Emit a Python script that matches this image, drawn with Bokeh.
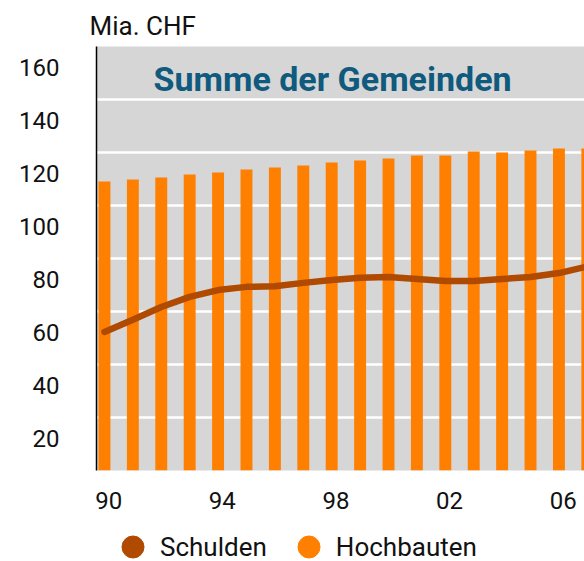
from bokeh.plotting import figure
from bokeh.layouts import column
from bokeh.models import ColumnDataSource, FixedTicker, Label, Legend, LegendItem
from bokeh.embed import file_html
from bokeh.resources import INLINE

# ---- data -------------------------------------------------------------
years = list(range(1990, 2008))
hochbauten = [119.1, 119.8, 120.6, 121.7, 122.5, 123.6, 124.3, 125.1, 126.2,
              127.0, 127.7, 128.9, 128.9, 130.4, 130.0, 130.8, 131.5, 131.5]
schulden = [62.3, 66.9, 71.7, 75.5, 78.1, 79.3, 79.5, 80.8, 81.9,
            82.7, 83.0, 82.3, 81.5, 81.5, 82.3, 83.0, 84.5, 87.0]

y_tick_values = [20, 40, 60, 80, 100, 120, 140, 160]
y_grid_values = [30, 50, 70, 90, 110, 130, 150]
x_tick_years = [1990, 1994, 1998, 2002, 2006]
x_tick_labels = ["90", "94", "98", "02", "06"]

title_text = "Summe der Gemeinden"
unit_text = "Mia. CHF"
series_names = ["Schulden", "Hochbauten"]

# ---- style -------------------------------------------------------------
FONT = "Roboto"
ORANGE = "#ff7f00"
BROWN = "#b04a00"
GRAY = "#d6d6d6"
TITLE_BLUE = "#0f5a7d"
TEXT = "#111111"
Y_LABEL_SHIFT = 1.9
X_LABEL_SHIFT = 0.15

src = ColumnDataSource(dict(year=years, hoch=hochbauten, schuld=schulden))

p = figure(width=584, height=521, output_backend="svg", toolbar_location=None,
           x_range=(1989.72, 2006.9), y_range=(10, 170),
           min_border_left=96, min_border_right=0, min_border_top=46,
           min_border_bottom=51)

p.background_fill_color = GRAY
p.border_fill_color = "white"
p.outline_line_color = None

# grid
p.xgrid.visible = False
p.ygrid.ticker = FixedTicker(ticks=y_grid_values)
p.ygrid.grid_line_color = "white"
p.ygrid.grid_line_width = 2.5

# bars and line
p.vbar(x="year", top="hoch", bottom=0, width=0.42, source=src,
       fill_color=ORANGE, line_color=None)
p.line(x="year", y="schuld", source=src, line_color=BROWN, line_width=6.5,
       line_join="round", line_cap="round")

# axes
yticks = [v + Y_LABEL_SHIFT for v in y_tick_values]
p.yaxis.ticker = FixedTicker(ticks=yticks)
p.yaxis.major_label_overrides = {t: str(v) for t, v in zip(yticks, y_tick_values)}
xticks = [v + X_LABEL_SHIFT for v in x_tick_years]
p.xaxis.ticker = FixedTicker(ticks=xticks)
p.xaxis.major_label_overrides = {t: s for t, s in zip(xticks, x_tick_labels)}

for ax in (p.xaxis[0], p.yaxis[0]):
    ax.major_tick_line_color = None
    ax.minor_tick_line_color = None
    ax.major_label_text_font = FONT
    ax.major_label_text_font_size = "24px"
    ax.major_label_text_color = TEXT
p.xaxis.axis_line_color = None
p.xaxis.major_label_standoff = 15
p.yaxis.axis_line_color = "black"
p.yaxis.axis_line_width = 1.5
p.yaxis.major_label_standoff = 31

# unit label above the axis
p.title.text = unit_text
p.title.align = "left"
p.title.offset = -7
p.title.standoff = 11
p.title.text_font = FONT
p.title.text_font_size = "26px"
p.title.text_font_style = "normal"
p.title.text_color = TEXT

# chart heading inside the plot
p.add_layout(Label(x=1998.03, y=157.6, text=title_text, text_align="center",
                   text_baseline="alphabetic", text_font=FONT, text_font_size="34px",
                   text_font_style="bold", text_color=TITLE_BLUE))

# legend (separate strip so it is not clipped by the plot frame)
lg = figure(width=584, height=40, output_backend="svg", toolbar_location=None,
            x_range=(0, 1), y_range=(0, 1),
            min_border=0, x_axis_location=None, y_axis_location=None)
lg.outline_line_color = None
lg.grid.visible = False
dummy = ColumnDataSource(dict(x=[float("nan")], y=[float("nan")]))
r_s = lg.scatter(x="x", y="y", source=dummy, marker="circle", color=BROWN)
r_h = lg.scatter(x="x", y="y", source=dummy, marker="circle", color=ORANGE)
legend = Legend(items=[LegendItem(label=series_names[0], renderers=[r_s]),
                       LegendItem(label=series_names[1], renderers=[r_h])],
                orientation="horizontal", location=(9, -13),
                glyph_width=55, glyph_height=55, label_standoff=-8, spacing=14,
                padding=0, margin=0, border_line_color=None,
                background_fill_alpha=0, label_text_font=FONT,
                label_text_font_size="26px", label_text_color=TEXT)
lg.add_layout(legend, "center")

layout = column(p, lg, spacing=0)
open("out.html", "w").write(file_html(layout, INLINE))
